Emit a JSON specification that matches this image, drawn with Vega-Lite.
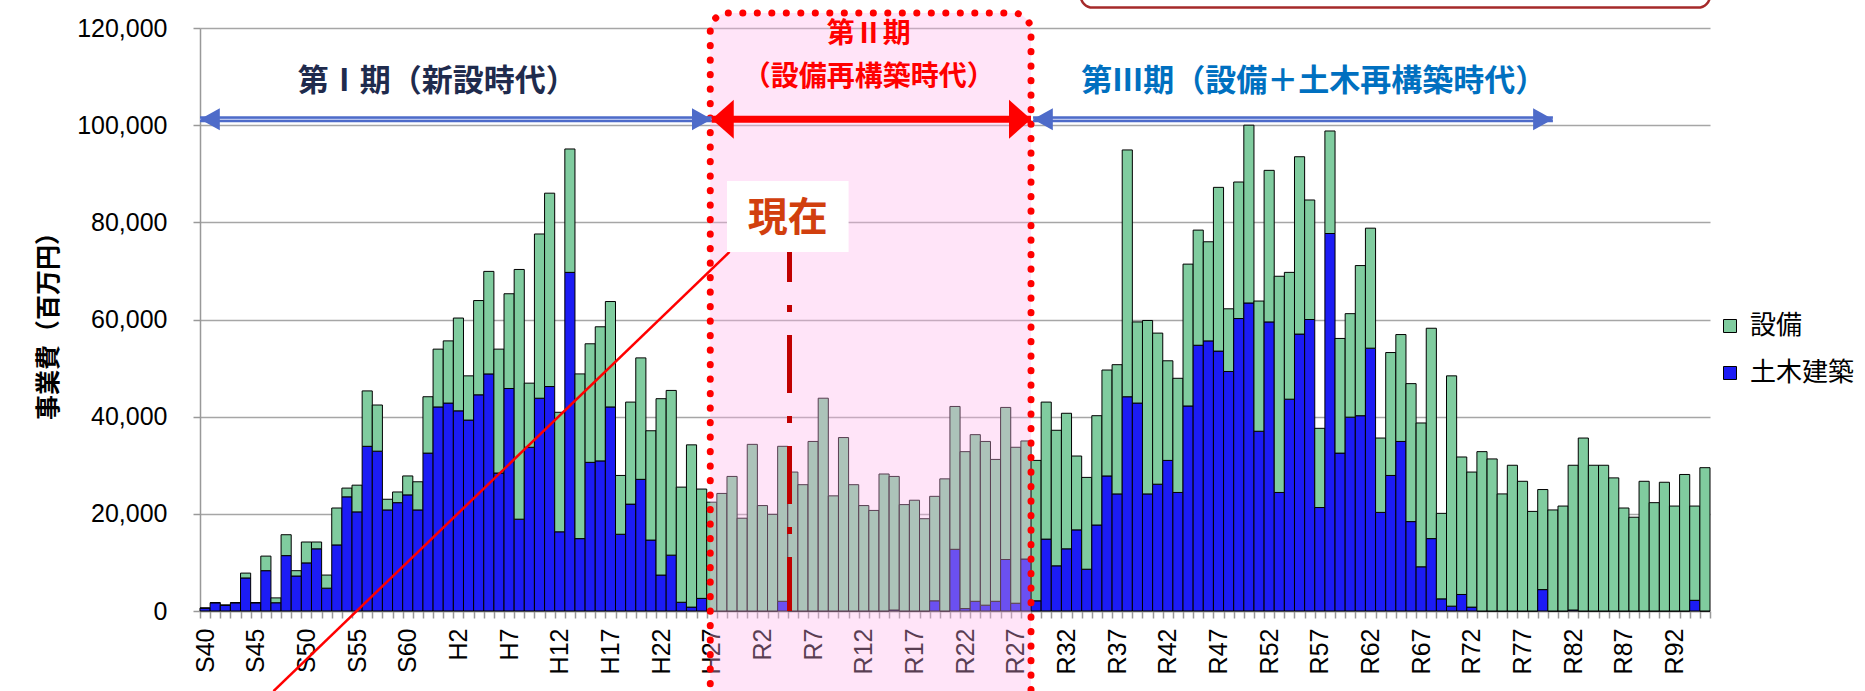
{
  "$schema": "https://vega.github.io/schema/vega-lite/v6.json",
  "width": 1510,
  "height": 583,
  "autosize": {"type": "none"},
  "padding": {"left": 200, "top": 28, "right": 155, "bottom": 80},
  "background": "#ffffff",
  "config": {"view": {"stroke": null}, "font": "Noto Sans CJK JP"},
  "data": {"values": [
    {"年度":"S40","土木建築":600,"設備":0},{"年度":"S41","土木建築":1700,"設備":0},{"年度":"S42","土木建築":1200,"設備":0},{"年度":"S43","土木建築":1700,"設備":0},{"年度":"S44","土木建築":6800,"設備":1000},
    {"年度":"S45","土木建築":1700,"設備":0},{"年度":"S46","土木建築":8300,"設備":3000},{"年度":"S47","土木建築":1700,"設備":1000},{"年度":"S48","土木建築":11400,"設備":4300},{"年度":"S49","土木建築":7200,"設備":1100},
    {"年度":"S50","土木建築":9900,"設備":4300},{"年度":"S51","土木建築":12800,"設備":1400},{"年度":"S52","土木建築":4700,"設備":2700},{"年度":"S53","土木建築":13600,"設備":7600},{"年度":"S54","土木建築":23500,"設備":1800},
    {"年度":"S55","土木建築":20400,"設備":5500},{"年度":"S56","土木建築":33900,"設備":11400},{"年度":"S57","土木建築":32900,"設備":9500},{"年度":"S58","土木建築":20800,"設備":2200},{"年度":"S59","土木建築":22300,"設備":2200},
    {"年度":"S60","土木建築":23900,"設備":3900},{"年度":"S61","土木建築":20800,"設備":5800},{"年度":"S62","土木建築":32500,"設備":11600},{"年度":"S63","土木建築":42000,"設備":11900},{"年度":"H1","土木建築":42800,"設備":12800},
    {"年度":"H2","土木建築":41200,"設備":19100},{"年度":"H3","土木建築":39300,"設備":9100},{"年度":"H4","土木建築":44500,"設備":19400},{"年度":"H5","土木建築":48800,"設備":21100},{"年度":"H6","土木建築":28400,"設備":25500},
    {"年度":"H7","土木建築":45800,"設備":19500},{"年度":"H8","土木建築":18900,"設備":51400},{"年度":"H9","土木建築":33700,"設備":13200},{"年度":"H10","土木建築":43800,"設備":33800},{"年度":"H11","土木建築":46200,"設備":39800},
    {"年度":"H12","土木建築":16300,"設備":24600},{"年度":"H13","土木建築":69700,"設備":25400},{"年度":"H14","土木建築":14900,"設備":33900},{"年度":"H15","土木建築":30600,"設備":24400},{"年度":"H16","土木建築":30900,"設備":27600},
    {"年度":"H17","土木建築":42000,"設備":21700},{"年度":"H18","土木建築":15800,"設備":12100},{"年度":"H19","土木建築":22000,"設備":21000},{"年度":"H20","土木建築":27100,"設備":25000},{"年度":"H21","土木建築":14600,"設備":22500},
    {"年度":"H22","土木建築":7400,"設備":36300},{"年度":"H23","土木建築":11500,"設備":33900},{"年度":"H24","土木建築":1800,"設備":23700},{"年度":"H25","土木建築":800,"設備":33400},{"年度":"H26","土木建築":2600,"設備":22500},
    {"年度":"H27","土木建築":0,"設備":22400},{"年度":"H28","土木建築":0,"設備":24200},{"年度":"H29","土木建築":0,"設備":27700},{"年度":"H30","土木建築":0,"設備":19100},{"年度":"R1","土木建築":0,"設備":34300},
    {"年度":"R2","土木建築":0,"設備":21700},{"年度":"R3","土木建築":0,"設備":19900},{"年度":"R4","土木建築":2000,"設備":31900},{"年度":"R5","土木建築":0,"設備":28600},{"年度":"R6","土木建築":0,"設備":26000},
    {"年度":"R7","土木建築":0,"設備":34900},{"年度":"R8","土木建築":0,"設備":43800},{"年度":"R9","土木建築":0,"設備":23700},{"年度":"R10","土木建築":0,"設備":35700},{"年度":"R11","土木建築":0,"設備":26000},
    {"年度":"R12","土木建築":0,"設備":21700},{"年度":"R13","土木建築":0,"設備":20700},{"年度":"R14","土木建築":0,"設備":28200},{"年度":"R15","土木建築":200,"設備":27500},{"年度":"R16","土木建築":0,"設備":21900},
    {"年度":"R17","土木建築":0,"設備":22800},{"年度":"R18","土木建築":0,"設備":19000},{"年度":"R19","土木建築":2100,"設備":21500},{"年度":"R20","土木建築":0,"設備":27200},{"年度":"R21","土木建築":12700,"設備":29400},
    {"年度":"R22","土木建築":500,"設備":32300},{"年度":"R23","土木建築":2000,"設備":34300},{"年度":"R24","土木建築":1200,"設備":33700},{"年度":"R25","土木建築":2000,"設備":29200},{"年度":"R26","土木建築":10600,"設備":31300},
    {"年度":"R27","土木建築":1600,"設備":32100},{"年度":"R28","土木建築":10700,"設備":24300},{"年度":"R29","土木建築":2100,"設備":28900},{"年度":"R30","土木建築":14800,"設備":28200},{"年度":"R31","土木建築":9300,"設備":27900},
    {"年度":"R32","土木建築":12800,"設備":27900},{"年度":"R33","土木建築":16700,"設備":15200},{"年度":"R34","土木建築":8600,"設備":18900},{"年度":"R35","土木建築":17700,"設備":22500},{"年度":"R36","土木建築":27800,"設備":21800},
    {"年度":"R37","土木建築":24100,"設備":26600},{"年度":"R38","土木建築":44100,"設備":50800},{"年度":"R39","土木建築":42800,"設備":16700},{"年度":"R40","土木建築":24100,"設備":35700},{"年度":"R41","土木建築":26100,"設備":31100},
    {"年度":"R42","土木建築":31000,"設備":20500},{"年度":"R43","土木建築":24400,"設備":23500},{"年度":"R44","土木建築":42200,"設備":29200},{"年度":"R45","土木建築":54700,"設備":23700},{"年度":"R46","土木建築":55600,"設備":20400},
    {"年度":"R47","土木建築":53500,"設備":33700},{"年度":"R48","土木建築":49300,"設備":12900},{"年度":"R49","土木建築":60200,"設備":28100},{"年度":"R50","土木建築":63400,"設備":36600},{"年度":"R51","土木建築":37000,"設備":26800},
    {"年度":"R52","土木建築":59500,"設備":31200},{"年度":"R53","土木建築":24400,"設備":44500},{"年度":"R54","土木建築":43600,"設備":26100},{"年度":"R55","土木建築":57000,"設備":36500},{"年度":"R56","土木建築":60000,"設備":24600},
    {"年度":"R57","土木建築":21300,"設備":16300},{"年度":"R58","土木建築":77700,"設備":21100},{"年度":"R59","土木建築":32500,"設備":23600},{"年度":"R60","土木建築":39900,"設備":21300},{"年度":"R61","土木建築":40200,"設備":30900},
    {"年度":"R62","土木建築":54100,"設備":24700},{"年度":"R63","土木建築":20300,"設備":15300},{"年度":"R64","土木建築":27900,"設備":25300},{"年度":"R65","土木建築":34900,"設備":22000},{"年度":"R66","土木建築":18400,"設備":28400},
    {"年度":"R67","土木建築":9100,"設備":29600},{"年度":"R68","土木建築":14900,"設備":43300},{"年度":"R69","土木建築":2500,"設備":17600},{"年度":"R70","土木建築":1000,"設備":47400},{"年度":"R71","土木建築":3400,"設備":28300},
    {"年度":"R72","土木建築":800,"設備":27800},{"年度":"R73","土木建築":0,"設備":32800},{"年度":"R74","土木建築":0,"設備":31300},{"年度":"R75","土木建築":0,"設備":24100},{"年度":"R76","土木建築":0,"設備":30000},
    {"年度":"R77","土木建築":0,"設備":26700},{"年度":"R78","土木建築":0,"設備":20500},{"年度":"R79","土木建築":4400,"設備":20600},{"年度":"R80","土木建築":0,"設備":20800},{"年度":"R81","土木建築":0,"設備":21600},
    {"年度":"R82","土木建築":200,"設備":29800},{"年度":"R83","土木建築":0,"設備":35600},{"年度":"R84","土木建築":0,"設備":30000},{"年度":"R85","土木建築":0,"設備":30000},{"年度":"R86","土木建築":0,"設備":27400},
    {"年度":"R87","土木建築":0,"設備":21200},{"年度":"R88","土木建築":0,"設備":19300},{"年度":"R89","土木建築":0,"設備":26700},{"年度":"R90","土木建築":0,"設備":22300},{"年度":"R91","土木建築":0,"設備":26500},
    {"年度":"R92","土木建築":0,"設備":21600},{"年度":"R93","土木建築":0,"設備":28100},{"年度":"R94","土木建築":2200,"設備":19400},{"年度":"R95","土木建築":0,"設備":29500}
  ]},
  "resolve": {"axis": {"x": "independent", "y": "independent"}},
  "layer": [
    {
      "transform": [{"fold": ["土木建築", "設備"], "as": ["区分", "事業費"]}],
      "mark": {"type": "bar", "stroke": "#000000", "strokeWidth": 1},
      "encoding": {
        "x": {"field": "年度", "type": "ordinal", "sort": null, "title": null,
          "scale": {"paddingInner": 0, "paddingOuter": 0},
          "axis": {"labelAngle": -90, "labelFont": "Liberation Sans", "labelFontSize": 25, "labelColor": "#000000",
            "labelPadding": 10, "tickBand": "extent", "tickSize": 7, "tickColor": "#999999", "tickWidth": 1.5,
            "domainColor": "#999999", "domainWidth": 1.5, "labelOverlap": false, "grid": false,
            "labelExpr": "indexof(['S40','S45','S50','S55','S60','H2','H7','H12','H17','H22','H27','R2','R7','R12','R17','R22','R27','R32','R37','R42','R47','R52','R57','R62','R67','R72','R77','R82','R87','R92'], datum.value) >= 0 ? datum.value : ''"}},
        "y": {"field": "事業費", "type": "quantitative", "stack": "zero",
          "scale": {"domain": [0, 120000], "nice": false},
          "axis": {"values": [0, 20000, 40000, 60000, 80000, 100000, 120000],
            "labelExpr": "format(datum.value, ',.0f')",
            "labelFont": "Liberation Sans", "labelFontSize": 25, "labelColor": "#000000", "labelPadding": 26,
            "tickSize": 7, "tickColor": "#999999", "tickWidth": 1.5, "domainColor": "#999999", "domainWidth": 1.5,
            "gridColor": "#a6a6a6", "gridWidth": 1.5,
            "title": "事業費（百万円）", "titleFont": "Noto Sans CJK JP", "titleFontSize": 25, "titleFontWeight": "bold",
            "titleColor": "#000000", "titleAngle": -90, "titleX": -152, "titleY": 291.5, "titleAlign": "center", "titleBaseline": "middle"}},
        "color": {"field": "区分", "type": "nominal",
          "scale": {"domain": ["設備", "土木建築"], "range": ["#80cc9f", "#1c1cf5"]},
          "legend": {"title": null, "orient": "none", "legendX": 1517, "legendY": 285, "symbolType": "square",
            "symbolSize": 169, "symbolStrokeColor": "#000000", "symbolStrokeWidth": 1, "symbolOpacity": 1,
            "labelFont": "Noto Sans CJK JP", "labelFontSize": 26, "labelColor": "#000000", "rowPadding": 21, "labelOffset": 7}},
        "order": {"field": "区分", "sort": "ascending"}
      }
    },
    {
      "data": {"values": [{"年度": "H27", "年度2": "R28", "lo": -20000, "hi": 123100}]},
      "mark": {"type": "rect", "fill": "#ffb2eb", "fillOpacity": 0.35, "stroke": "#ff0000", "strokeWidth": 7,
        "strokeDash": [0.1, 14.4], "strokeCap": "round", "cornerRadius": 18},
      "encoding": {
        "x": {"field": "年度", "type": "ordinal", "sort": null, "bandPosition": 0.35, "axis": null},
        "x2": {"field": "年度2", "bandPosition": 1},
        "y": {"field": "lo", "type": "quantitative", "scale": {"domain": [0, 120000], "nice": false}, "axis": null},
        "y2": {"field": "hi"}
      }
    },
    {
      "data": {"values": [{"年度": "R33", "年度2": "R95", "lo": 124200, "hi": 140000}]},
      "mark": {"type": "rect", "fill": "#ffffff", "stroke": "#a52a2a", "strokeWidth": 2.5, "cornerRadius": 12},
      "encoding": {
        "x": {"field": "年度", "type": "ordinal", "sort": null, "bandPosition": 0.9, "axis": null},
        "x2": {"field": "年度2", "bandPosition": 1},
        "y": {"field": "lo", "type": "quantitative", "scale": {"domain": [0, 120000], "nice": false}, "axis": null},
        "y2": {"field": "hi"}
      }
    },
    {
      "data": {"values": [{"年度": "S40", "年度2": "H27", "v": 101200}]},
      "mark": {"type": "rule", "color": "#4e6bc9", "strokeWidth": 6},
      "encoding": {
        "x": {"field": "年度", "type": "ordinal", "sort": null, "bandPosition": 0, "axis": null},
        "x2": {"field": "年度2", "bandPosition": 0.5},
        "y": {"field": "v", "type": "quantitative", "scale": {"domain": [0, 120000], "nice": false}, "axis": null}
      }
    },
    {
      "data": {"values": [{"年度": "R29", "年度2": "R80", "v": 101200}]},
      "mark": {"type": "rule", "color": "#4e6bc9", "strokeWidth": 6},
      "encoding": {
        "x": {"field": "年度", "type": "ordinal", "sort": null, "bandPosition": 0.2, "axis": null},
        "x2": {"field": "年度2", "bandPosition": 0.5},
        "y": {"field": "v", "type": "quantitative", "scale": {"domain": [0, 120000], "nice": false}, "axis": null}
      }
    },
    {
      "data": {"values": [{"年度": "S40", "年度2": "H27", "v": 101200}]},
      "mark": {"type": "rule", "color": "#b9c5ef", "strokeWidth": 1.2},
      "encoding": {
        "x": {"field": "年度", "type": "ordinal", "sort": null, "bandPosition": 0, "axis": null},
        "x2": {"field": "年度2", "bandPosition": 0.5},
        "y": {"field": "v", "type": "quantitative", "scale": {"domain": [0, 120000], "nice": false}, "axis": null}
      }
    },
    {
      "data": {"values": [{"年度": "R29", "年度2": "R80", "v": 101200}]},
      "mark": {"type": "rule", "color": "#b9c5ef", "strokeWidth": 1.2},
      "encoding": {
        "x": {"field": "年度", "type": "ordinal", "sort": null, "bandPosition": 0.2, "axis": null},
        "x2": {"field": "年度2", "bandPosition": 0.5},
        "y": {"field": "v", "type": "quantitative", "scale": {"domain": [0, 120000], "nice": false}, "axis": null}
      }
    },
    {
      "data": {"values": [{"年度": "H27", "年度2": "R28", "v": 101200}]},
      "mark": {"type": "rule", "color": "#ff0000", "strokeWidth": 7},
      "encoding": {
        "x": {"field": "年度", "type": "ordinal", "sort": null, "bandPosition": 0.5, "axis": null},
        "x2": {"field": "年度2", "bandPosition": 1},
        "y": {"field": "v", "type": "quantitative", "scale": {"domain": [0, 120000], "nice": false}, "axis": null}
      }
    },
    {
      "data": {"values": [{"年度": "S40", "v": 101200}]},
      "mark": {"type": "point", "shape": "M0,0L1.8,-1L1.8,1Z", "size": 484, "filled": true, "color": "#4e6bc9", "opacity": 1, "strokeWidth": 0},
      "encoding": {
        "x": {"field": "年度", "type": "ordinal", "sort": null, "bandPosition": 0, "axis": null},
        "y": {"field": "v", "type": "quantitative", "scale": {"domain": [0, 120000], "nice": false}, "axis": null}
      }
    },
    {
      "data": {"values": [{"年度": "R29", "v": 101200}]},
      "mark": {"type": "point", "shape": "M0,0L1.8,-1L1.8,1Z", "size": 484, "filled": true, "color": "#4e6bc9", "opacity": 1, "strokeWidth": 0},
      "encoding": {
        "x": {"field": "年度", "type": "ordinal", "sort": null, "bandPosition": 0.2, "axis": null},
        "y": {"field": "v", "type": "quantitative", "scale": {"domain": [0, 120000], "nice": false}, "axis": null}
      }
    },
    {
      "data": {"values": [{"年度": "H27", "v": 101200}, {"年度": "R80", "v": 101200}]},
      "mark": {"type": "point", "shape": "M0,0L-1.8,-1L-1.8,1Z", "size": 484, "filled": true, "color": "#4e6bc9", "opacity": 1, "strokeWidth": 0},
      "encoding": {
        "x": {"field": "年度", "type": "ordinal", "sort": null, "bandPosition": 0.5, "axis": null},
        "y": {"field": "v", "type": "quantitative", "scale": {"domain": [0, 120000], "nice": false}, "axis": null}
      }
    },
    {
      "data": {"values": [{"年度": "H27", "v": 101200}]},
      "mark": {"type": "point", "shape": "M0,0L2,-1.77L2,1.77Z", "size": 484, "filled": true, "color": "#ff0000", "opacity": 1, "strokeWidth": 0},
      "encoding": {
        "x": {"field": "年度", "type": "ordinal", "sort": null, "bandPosition": 0.5, "axis": null},
        "y": {"field": "v", "type": "quantitative", "scale": {"domain": [0, 120000], "nice": false}, "axis": null}
      }
    },
    {
      "data": {"values": [{"年度": "R28", "v": 101200}]},
      "mark": {"type": "point", "shape": "M0,0L-2,-1.77L-2,1.77Z", "size": 484, "filled": true, "color": "#ff0000", "opacity": 1, "strokeWidth": 0},
      "encoding": {
        "x": {"field": "年度", "type": "ordinal", "sort": null, "bandPosition": 1, "axis": null},
        "y": {"field": "v", "type": "quantitative", "scale": {"domain": [0, 120000], "nice": false}, "axis": null}
      }
    },
    {
      "data": {"values": [{"年度": "S63", "v": 108800, "label": "第Ⅰ期（新設時代）"}]},
      "mark": {"type": "text", "font": "Noto Sans CJK JP", "fontWeight": "bold", "fontSize": 31, "color": "#1f2b4d", "align": "center", "baseline": "middle"},
      "encoding": {
        "x": {"field": "年度", "type": "ordinal", "sort": null, "bandPosition": 0.4, "axis": null},
        "y": {"field": "v", "type": "quantitative", "scale": {"domain": [0, 120000], "nice": false}, "axis": null},
        "text": {"field": "label"}
      }
    },
    {
      "data": {"values": [{"年度": "R13", "v": 118600, "label": "第Ⅱ期"}, {"年度": "R13", "v": 109700, "label": "（設備再構築時代）"}]},
      "mark": {"type": "text", "font": "Noto Sans CJK JP", "fontWeight": "bold", "fontSize": 28, "color": "#ff0000", "align": "center", "baseline": "middle"},
      "encoding": {
        "x": {"field": "年度", "type": "ordinal", "sort": null, "bandPosition": 0.0, "axis": null},
        "y": {"field": "v", "type": "quantitative", "scale": {"domain": [0, 120000], "nice": false}, "axis": null},
        "text": {"field": "label"}
      }
    },
    {
      "data": {"values": [{"年度": "R56", "v": 108900, "label": "第Ⅲ期（設備＋土木再構築時代）"}]},
      "mark": {"type": "text", "font": "Noto Sans CJK JP", "fontWeight": "bold", "fontSize": 31, "color": "#0070c0", "align": "center", "baseline": "middle"},
      "encoding": {
        "x": {"field": "年度", "type": "ordinal", "sort": null, "bandPosition": 0.9, "axis": null},
        "y": {"field": "v", "type": "quantitative", "scale": {"domain": [0, 120000], "nice": false}, "axis": null},
        "text": {"field": "label"}
      }
    },
    {
      "data": {"values": [{"年度": "S47", "v": -16500}, {"年度": "H29", "v": 73900}]},
      "mark": {"type": "line", "color": "#ff0000", "strokeWidth": 2.5},
      "encoding": {
        "x": {"field": "年度", "type": "ordinal", "sort": null, "bandPosition": 0.25, "axis": null},
        "y": {"field": "v", "type": "quantitative", "scale": {"domain": [0, 120000], "nice": false}, "axis": null}
      }
    },
    {
      "data": {"values": [{"年度": "H29", "年度2": "R11", "lo": 73900, "hi": 88500}]},
      "mark": {"type": "rect", "fill": "#ffffff"},
      "encoding": {
        "x": {"field": "年度", "type": "ordinal", "sort": null, "bandPosition": 0, "axis": null},
        "x2": {"field": "年度2", "bandPosition": 0},
        "y": {"field": "lo", "type": "quantitative", "scale": {"domain": [0, 120000], "nice": false}, "axis": null},
        "y2": {"field": "hi"}
      }
    },
    {
      "data": {"values": [{"年度": "R5", "v": 80700, "label": "現在"}]},
      "mark": {"type": "text", "font": "Noto Sans CJK JP", "fontWeight": "bold", "fontSize": 40, "color": "#d13f0e", "align": "center", "baseline": "middle"},
      "encoding": {
        "x": {"field": "年度", "type": "ordinal", "sort": null, "bandPosition": 0, "axis": null},
        "y": {"field": "v", "type": "quantitative", "scale": {"domain": [0, 120000], "nice": false}, "axis": null},
        "text": {"field": "label"}
      }
    },
    {
      "data": {"values": [{"年度": "R5", "top": 73900, "bottom": 0}]},
      "mark": {"type": "rule", "color": "#c00000", "strokeWidth": 5, "strokeDash": [58, 23, 7, 23], "strokeDashOffset": 28},
      "encoding": {
        "x": {"field": "年度", "type": "ordinal", "sort": null, "bandPosition": 0.17, "axis": null},
        "y": {"field": "top", "type": "quantitative", "scale": {"domain": [0, 120000], "nice": false}, "axis": null},
        "y2": {"field": "bottom"}
      }
    }
  ]
}
